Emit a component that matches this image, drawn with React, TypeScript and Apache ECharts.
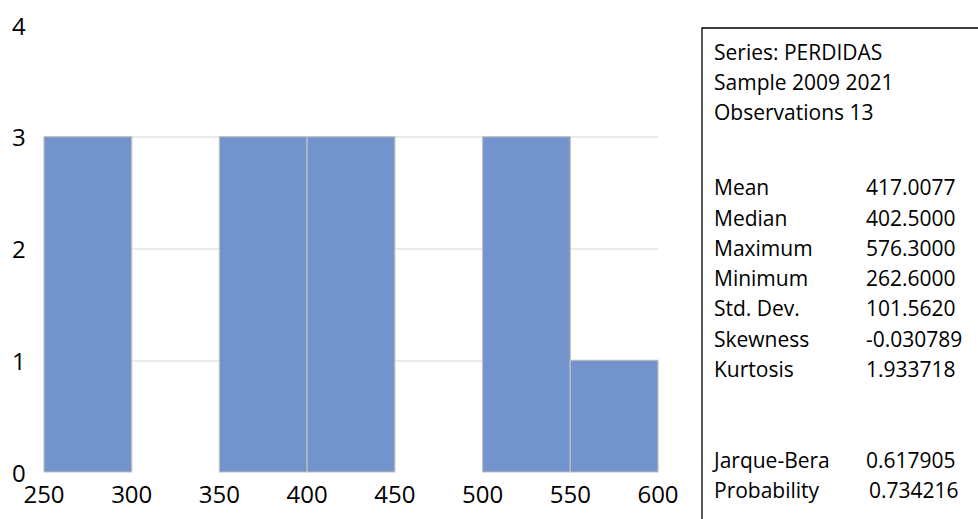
import React, { useEffect, useRef } from "react";
import * as echarts from "echarts";

// Histogram bins (lower edge, upper edge) and their counts
const binStarts = [250, 300, 350, 400, 450, 500, 550];
const binEnds = [300, 350, 400, 450, 500, 550, 600];
const binCounts = [3, 0, 3, 3, 0, 3, 1];

// Descriptive statistics panel
const headerLines = ["Series: PERDIDAS", "Sample 2009 2021", "Observations 13"];
const statNames = ["Mean", "Median", "Maximum", "Minimum", "Std. Dev.", "Skewness", "Kurtosis"];
const statValues = ["417.0077", "402.5000", "576.3000", "262.6000", "101.5620", "-0.030789", "1.933718"];
const testNames = ["Jarque-Bera", "Probability"];
const testValues = ["0.617905", "0.734216"];

const FONT = "'Open Sans', 'Noto Sans', sans-serif";
const PANEL_FONT = "'Open Sans', 'Noto Sans', sans-serif";

export default function App() {
  const ref = useRef<HTMLDivElement>(null);

  useEffect(() => {
    if (!ref.current) return;
    const chart = echarts.init(ref.current, undefined, { renderer: "svg" });

    const data = binStarts.map((s, i) => [s, binEnds[i], binCounts[i]]);

    const textStyle = { fill: "#000", font: `21px ${PANEL_FONT}`, textVerticalAlign: "middle" };
    const panel: any[] = [
      {
        type: "rect",
        shape: { x: 702, y: 28, width: 300, height: 520 },
        style: { fill: "#fff", stroke: "#000", lineWidth: 1.3 },
        z: 1,
      },
    ];
    const headerY = [52, 82, 112];
    headerLines.forEach((t, i) =>
      panel.push({ type: "text", x: 714, y: headerY[i], style: { ...textStyle, text: t }, z: 2 })
    );
    const statY = [187, 218, 248, 278, 308, 339, 369];
    statNames.forEach((t, i) => {
      panel.push({ type: "text", x: 714, y: statY[i], style: { ...textStyle, text: t }, z: 2 });
      panel.push({
        type: "text",
        x: statValues[i].startsWith("-") ? 866 : 866,
        y: statY[i],
        style: { ...textStyle, text: statValues[i] },
        z: 2,
      });
    });
    const testY = [460, 490];
    testNames.forEach((t, i) => {
      panel.push({ type: "text", x: 714, y: testY[i], style: { ...textStyle, text: t }, z: 2 });
      panel.push({
        type: "text",
        x: i === 1 ? 869 : 866,
        y: testY[i],
        style: { ...textStyle, text: testValues[i] },
        z: 2,
      });
    });

    chart.setOption({
      animation: false,
      backgroundColor: "#fff",
      grid: { left: 44, right: 320, top: 25, bottom: 47, containLabel: false },
      xAxis: {
        type: "value",
        min: 250,
        max: 600,
        interval: 50,
        axisLine: { show: false },
        axisTick: { show: false },
        splitLine: { show: false },
        axisLabel: { color: "#000", fontFamily: FONT, fontSize: 24, margin: 9 },
      },
      yAxis: {
        type: "value",
        min: 0,
        max: 4,
        interval: 1,
        axisLine: { show: false },
        axisTick: { show: false },
        splitLine: {
          show: true,
          lineStyle: {
            color: ["rgba(0,0,0,0)", "#E3E3E3", "#E3E3E3", "#E3E3E3", "rgba(0,0,0,0)"],
            width: 1.5,
          },
        },
        axisLabel: { color: "#000", fontFamily: FONT, fontSize: 24, align: "left", margin: 32 },
      },
      series: [
        {
          type: "custom",
          data,
          encode: { x: [0, 1], y: 2 },
          renderItem: (params: any, api: any) => {
            const count = api.value(2);
            if (!count) return null;
            const topLeft = api.coord([api.value(0), count]);
            const bottomRight = api.coord([api.value(1), 0]);
            return {
              type: "rect",
              shape: {
                x: topLeft[0],
                y: topLeft[1],
                width: bottomRight[0] - topLeft[0],
                height: bottomRight[1] - topLeft[1],
              },
              style: { fill: "#7293CB", stroke: "#BFBFBF", lineWidth: 1.2 },
            };
          },
        },
      ],
      graphic: panel,
    });

    return () => chart.dispose();
  }, []);

  return (
    <div
      ref={ref}
      style={{ position: "fixed", left: 0, top: 0, width: 978, height: 519, background: "#fff" }}
    />
  );
}
